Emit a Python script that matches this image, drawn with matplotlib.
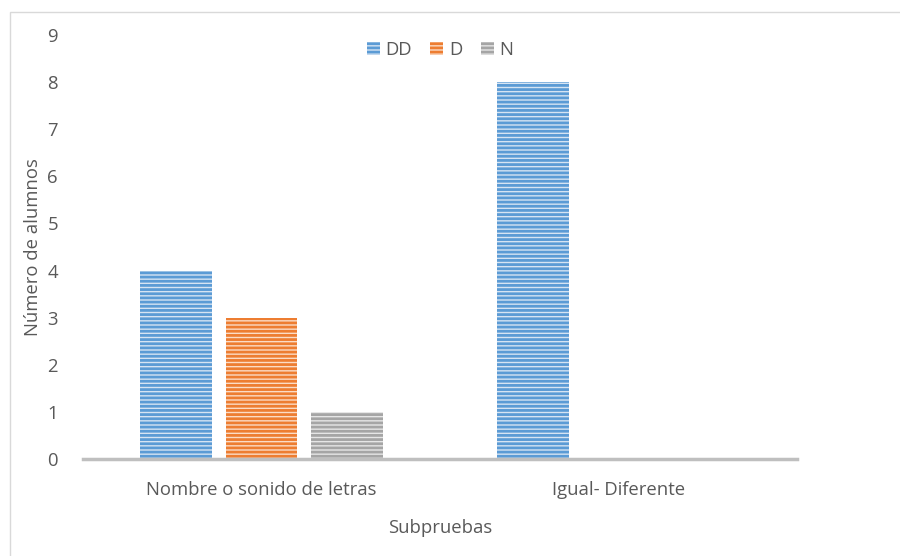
import matplotlib
matplotlib.use("Agg")
import matplotlib.pyplot as plt
import numpy as np
from matplotlib.patches import Rectangle

categories = ["Nombre o sonido de letras", "Igual- Diferente"]
series_names = ["DD", "D", "N"]
dd_values = [4, 8]
d_values = [3, 0]
n_values = [1, 0]
y_ticks = [0, 1, 2, 3, 4, 5, 6, 7, 8, 9]

plt.rcParams['font.family'] = ['Open Sans', 'DejaVu Sans']
plt.rcParams['hatch.linewidth'] = 2.0

text_color = "#595959"
dark_colors = ["#5b9bd5", "#ed7d31", "#a5a5a5"]
light_colors = ["#d6e4f3", "#fbdcc6", "#e6e6e6"]
fs = 13.3

fig = plt.figure(figsize=(9, 5.56), dpi=100)
ax = fig.add_axes([83/900, 1 - 459/556, 714/900, (459 - 35)/556])

x = np.arange(len(categories))
width = 0.2
offsets = [-0.24, 0.0, 0.24]
all_values = [dd_values, d_values, n_values]
for i, (name, vals) in enumerate(zip(series_names, all_values)):
    ax.bar(x + offsets[i], vals, width, color=light_colors[i],
           edgecolor=dark_colors[i], hatch='----', linewidth=0, label=name)

ax.set_xlim(-0.5, 1.5)
ax.set_ylim(0, 9)
ax.set_yticks(y_ticks)
ax.set_xticks(x)
ax.set_xticklabels(categories)
for s in ['top', 'right', 'left']:
    ax.spines[s].set_visible(False)
ax.spines['bottom'].set_color('#bfbfbf')
ax.spines['bottom'].set_linewidth(2.5)
ax.tick_params(axis='both', length=0, labelsize=fs, labelcolor=text_color)
ax.tick_params(axis='y', pad=18)
ax.tick_params(axis='x', pad=16)
ax.set_ylabel("Número de alumnos", fontsize=fs, color=text_color, labelpad=4)
ax.set_xlabel("Subpruebas", fontsize=fs, color=text_color, labelpad=14)

leg = ax.legend(loc='center', bbox_to_anchor=(0.5, 1 - 15/424), ncol=3, frameon=False,
                fontsize=fs, labelcolor=text_color, handlelength=0.7, handleheight=0.7,
                handletextpad=0.3, columnspacing=1.0, borderpad=0)
for t in leg.get_texts():
    t.set_color(text_color)

border = Rectangle((10/900, -0.1), 1.2, 1 - 12/556 + 0.1, transform=fig.transFigure,
                   fill=False, edgecolor='#d9d9d9', linewidth=1.0)
fig.patches.append(border)

fig.savefig("out.png", dpi=100)
